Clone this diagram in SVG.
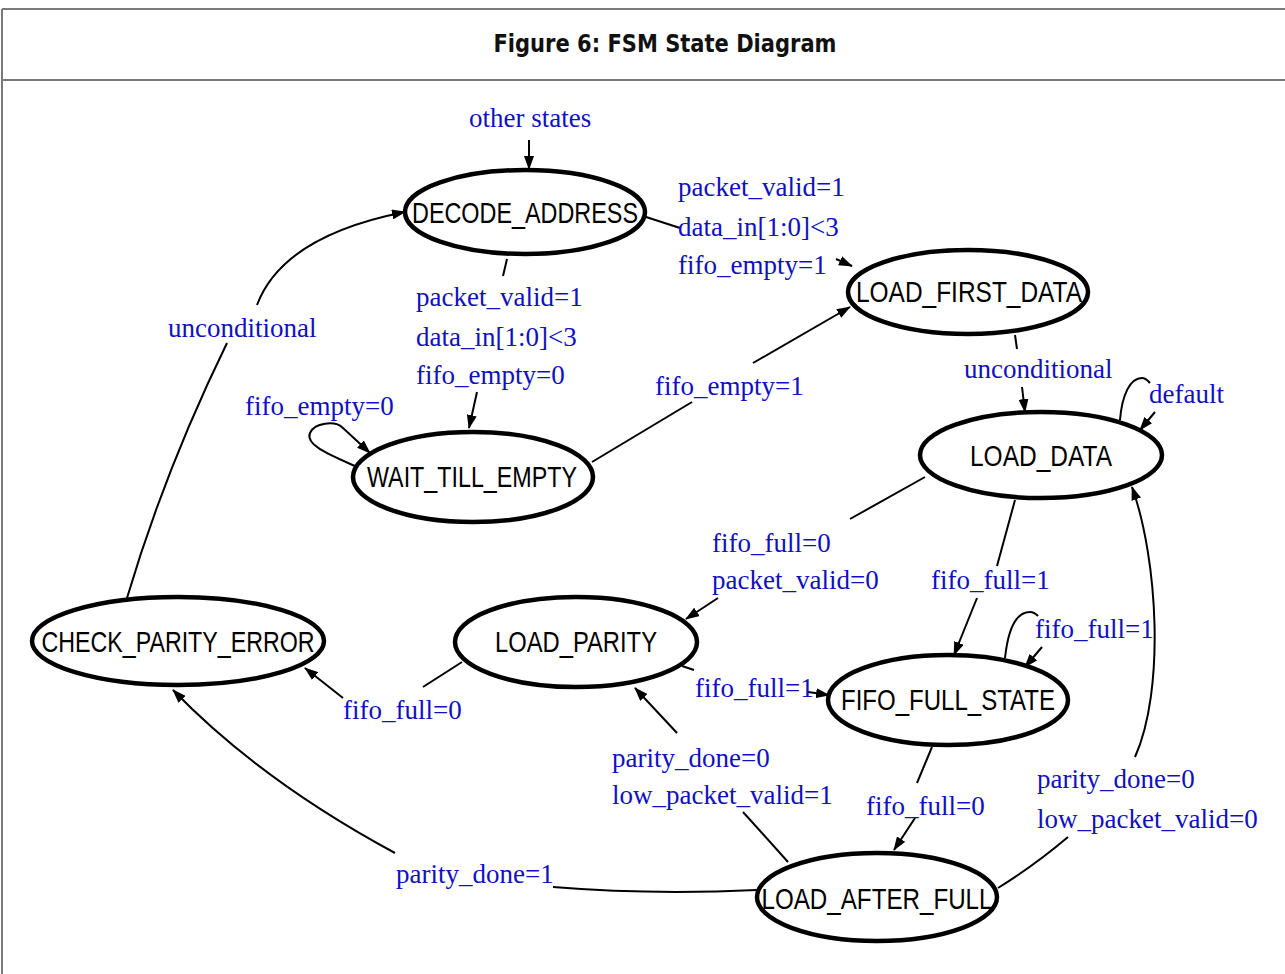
<svg xmlns="http://www.w3.org/2000/svg" width="1285" height="974" viewBox="0 0 1285 974">
<style>
.frame{stroke:#7a7a7a;stroke-width:2;fill:none}
.title{font-family:"DejaVu Sans",Verdana,sans-serif;font-weight:bold;font-size:24px;fill:#111}
.st{fill:#fff;stroke:#000;stroke-width:4.5}
.nt{font-family:"Liberation Sans",Arial,sans-serif;font-size:29px;fill:#000;text-anchor:middle}
.cn{fill:none;stroke:#000;stroke-width:2}
.lb{font-family:"Liberation Serif","Times New Roman",serif;font-size:27px;fill:#1010c0}
</style>
<defs>
<marker id="ah" viewBox="0 0 14 10" refX="13" refY="5" markerWidth="14" markerHeight="10" orient="auto" markerUnits="userSpaceOnUse">
<path d="M0,0 L14,5 L0,10 z" fill="#000"/>
</marker>
</defs>
<rect width="1285" height="974" fill="#fff"/>
<g id="frame">
<line class="frame" x1="2" y1="9" x2="1285" y2="9"/>
<line class="frame" x1="2" y1="80" x2="1285" y2="80"/>
<line class="frame" x1="2" y1="9" x2="2" y2="974"/>
<text class="title" x="665" y="52" text-anchor="middle" textLength="343" lengthAdjust="spacingAndGlyphs">Figure 6: FSM State Diagram</text>
</g>
<g id="connectors">
<path class="cn" d="M529,140 L529,169" marker-end="url(#ah)"/>
<path class="cn" d="M643,216 L680,228"/>
<path class="cn" d="M836,259 L852,266" marker-end="url(#ah)"/>
<path class="cn" d="M507,259 L503,276"/>
<path class="cn" d="M477,392 L469,428" marker-end="url(#ah)"/>
<path class="cn" d="M355,466 C330,455 305,445 310,433 C314,423 335,420 343,428 L370,453" marker-end="url(#ah)"/>
<path class="cn" d="M592,462 L692,402"/>
<path class="cn" d="M753,363 L850,307" marker-end="url(#ah)"/>
<path class="cn" d="M1015,335 L1017,349"/>
<path class="cn" d="M1022,387 L1025,412" marker-end="url(#ah)"/>
<path class="cn" d="M1120,420 C1122,395 1130,378 1142,378 C1146,378 1148,381 1150,383"/>
<path class="cn" d="M1155,412 L1140,430" marker-end="url(#ah)"/>
<path class="cn" d="M925,477 L850,519"/>
<path class="cn" d="M718,598 L686,619" marker-end="url(#ah)"/>
<path class="cn" d="M1015,500 L997,566"/>
<path class="cn" d="M977,598 L954,655" marker-end="url(#ah)"/>
<path class="cn" d="M1005,658 C1008,630 1015,612 1030,612 C1034,612 1036,614 1038,616"/>
<path class="cn" d="M1042,647 L1025,667" marker-end="url(#ah)"/>
<path class="cn" d="M682,666 L694,670"/>
<path class="cn" d="M808,692 L829,695" marker-end="url(#ah)"/>
<path class="cn" d="M462,662 L423,687"/>
<path class="cn" d="M343,698 L305,668" marker-end="url(#ah)"/>
<path class="cn" d="M932,747 L917,783"/>
<path class="cn" d="M915,818 L894,850" marker-end="url(#ah)"/>
<path class="cn" d="M788,862 L743,812"/>
<path class="cn" d="M677,733 L635,688" marker-end="url(#ah)"/>
<path class="cn" d="M998,888 Q1035,865 1068,837"/>
<path class="cn" d="M1135,757 C1165,690 1158,560 1132,487" marker-end="url(#ah)"/>
<path class="cn" d="M757,890 Q650,895 553,887"/>
<path class="cn" d="M395,853 Q260,780 173,690" marker-end="url(#ah)"/>
<path class="cn" d="M127,598 Q165,470 227,343"/>
<path class="cn" d="M257,305 Q283,236 405,212" marker-end="url(#ah)"/>
</g>
<g id="DECODE_ADDRESS"><ellipse class="st" cx="525" cy="212" rx="120" ry="42"/><text class="nt" x="525" y="223" textLength="226" lengthAdjust="spacingAndGlyphs">DECODE_ADDRESS</text></g>
<g id="LOAD_FIRST_DATA"><ellipse class="st" cx="968" cy="292" rx="120" ry="42"/><text class="nt" x="969" y="302" textLength="226" lengthAdjust="spacingAndGlyphs">LOAD_FIRST_DATA</text></g>
<g id="LOAD_DATA"><ellipse class="st" cx="1041" cy="455" rx="121" ry="43"/><text class="nt" x="1041" y="466" textLength="142" lengthAdjust="spacingAndGlyphs">LOAD_DATA</text></g>
<g id="WAIT_TILL_EMPTY"><ellipse class="st" cx="473" cy="477" rx="120" ry="45"/><text class="nt" x="472" y="487" textLength="210" lengthAdjust="spacingAndGlyphs">WAIT_TILL_EMPTY</text></g>
<g id="CHECK_PARITY_ERROR"><ellipse class="st" cx="178" cy="641" rx="146" ry="44"/><text class="nt" x="178" y="652" textLength="273" lengthAdjust="spacingAndGlyphs">CHECK_PARITY_ERROR</text></g>
<g id="LOAD_PARITY"><ellipse class="st" cx="576" cy="642" rx="121" ry="45"/><text class="nt" x="576" y="652" textLength="162" lengthAdjust="spacingAndGlyphs">LOAD_PARITY</text></g>
<g id="FIFO_FULL_STATE"><ellipse class="st" cx="948" cy="700" rx="120" ry="45"/><text class="nt" x="948" y="710" textLength="214" lengthAdjust="spacingAndGlyphs">FIFO_FULL_STATE</text></g>
<g id="LOAD_AFTER_FULL"><ellipse class="st" cx="877" cy="897" rx="120" ry="44"/><text class="nt" x="877" y="909" textLength="231" lengthAdjust="spacingAndGlyphs">LOAD_AFTER_FULL</text></g>
<g id="labels">
<text class="lb" x="469" y="127">other states</text>
<text class="lb" x="678" y="196">packet_valid=1</text>
<text class="lb" x="678" y="236">data_in[1:0]&lt;3</text>
<text class="lb" x="678" y="274">fifo_empty=1</text>
<text class="lb" x="416" y="306">packet_valid=1</text>
<text class="lb" x="416" y="346">data_in[1:0]&lt;3</text>
<text class="lb" x="416" y="384">fifo_empty=0</text>
<text class="lb" x="168" y="337">unconditional</text>
<text class="lb" x="245" y="415">fifo_empty=0</text>
<text class="lb" x="655" y="395">fifo_empty=1</text>
<text class="lb" x="964" y="378">unconditional</text>
<text class="lb" x="1149" y="403">default</text>
<text class="lb" x="712" y="552">fifo_full=0</text>
<text class="lb" x="712" y="589">packet_valid=0</text>
<text class="lb" x="931" y="589">fifo_full=1</text>
<text class="lb" x="1035" y="638">fifo_full=1</text>
<text class="lb" x="343" y="719">fifo_full=0</text>
<text class="lb" x="695" y="697">fifo_full=1</text>
<text class="lb" x="612" y="767">parity_done=0</text>
<text class="lb" x="612" y="804">low_packet_valid=1</text>
<text class="lb" x="866" y="815">fifo_full=0</text>
<text class="lb" x="1037" y="788">parity_done=0</text>
<text class="lb" x="1037" y="828">low_packet_valid=0</text>
<text class="lb" x="396" y="883">parity_done=1</text>
</g>
</svg>
